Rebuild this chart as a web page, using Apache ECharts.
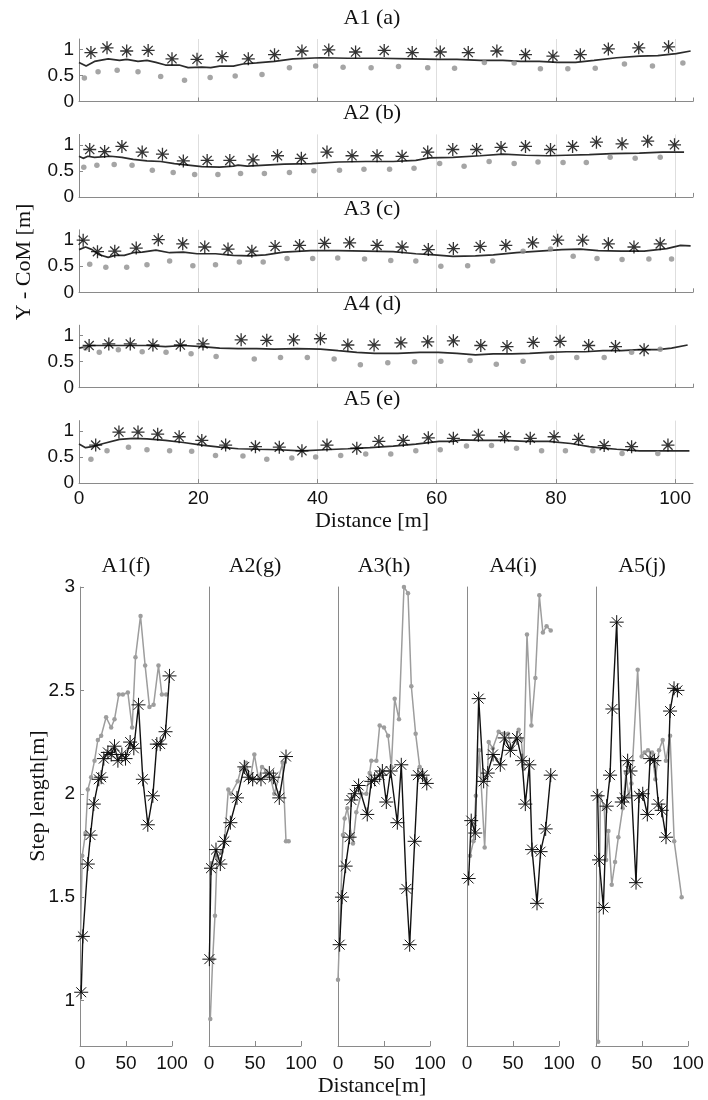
<!DOCTYPE html>
<html><head><meta charset="utf-8">
<script src="https://cdn.jsdelivr.net/npm/echarts@6/dist/echarts.min.js"></script>
<style>html,body{margin:0;padding:0;background:#fff}#c{width:708px;height:1100px}</style>
</head><body><div id="c"></div><script>
// ---------- labels / ticks ----------
const topTitles = ['A1 (a)', 'A2 (b)', 'A3 (c)', 'A4 (d)', 'A5 (e)'];
const botTitles = ['A1(f)', 'A2(g)', 'A3(h)', 'A4(i)', 'A5(j)'];
const topYTicks = [0, 0.5, 1];
const botYTicks = [1, 1.5, 2, 2.5, 3];
const topYName = 'Y - CoM [m]';
const topXName = 'Distance [m]';
const botYName = 'Step length[m]';
const botXName = 'Distance[m]';

// ---------- top panels: CoM line, step (stars), foot (dots) ----------
const a1Line = [[0,0.75],[1.2,0.68],[2.6,0.77],[4.9,0.82],[6.8,0.79],[8,0.81],[9.9,0.77],[11.4,0.79],[12.9,0.75],[14.5,0.70],[16.8,0.70],[18.3,0.65],[20.6,0.66],[22.1,0.65],[23.6,0.68],[25.9,0.68],[27.5,0.72],[29.8,0.74],[32.8,0.77],[35.9,0.82],[40.5,0.84],[45.1,0.83],[50.4,0.83],[55.8,0.82],[60.4,0.81],[63.4,0.81],[67.3,0.79],[71.1,0.79],[74.1,0.77],[77.2,0.77],[80.3,0.75],[83.3,0.75],[86.4,0.79],[90.2,0.84],[94.0,0.87],[97.1,0.88],[100.2,0.92],[102.6,0.97]];
const a1Stars = [[2.0,0.94],[4.7,1.03],[8.0,0.97],[11.6,0.98],[15.6,0.82],[19.8,0.81],[24.0,0.86],[28.4,0.82],[32.8,0.90],[37.4,0.97],[41.9,0.99],[46.4,0.95],[51.2,0.98],[55.9,0.94],[60.6,0.95],[65.3,0.94],[70.1,0.97],[74.9,0.90],[79.5,0.87],[84.1,0.90],[88.8,1.01],[93.9,1.03],[98.9,1.05]];
const a1Dots = [[0.9,0.45],[3.2,0.57],[6.4,0.60],[9.9,0.57],[13.7,0.48],[17.7,0.41],[22.0,0.46],[26.2,0.49],[30.7,0.52],[35.3,0.65],[39.7,0.68],[44.3,0.66],[49.0,0.65],[53.6,0.67],[58.5,0.65],[63.0,0.64],[68.0,0.75],[73.0,0.74],[77.4,0.63],[82.0,0.63],[86.6,0.64],[91.5,0.72],[96.2,0.68],[101.3,0.74]];

const a2Line = [[0,0.78],[0.7,0.74],[1.5,0.78],[2.6,0.76],[5.3,0.78],[7.2,0.76],[9.1,0.72],[11.4,0.69],[13.7,0.68],[16.0,0.64],[18.3,0.61],[20.6,0.58],[23.6,0.57],[25.9,0.59],[26.7,0.61],[28.2,0.59],[31.3,0.61],[34.4,0.63],[39.0,0.64],[43.5,0.67],[48.1,0.68],[52.7,0.68],[56.5,0.70],[58.8,0.75],[62.7,0.76],[67.3,0.79],[71.1,0.82],[74.9,0.80],[78.7,0.79],[81.7,0.80],[85.6,0.81],[89.4,0.83],[94.0,0.84],[97.9,0.86],[101.5,0.86]];
const a2Stars = [[1.8,0.91],[4.3,0.87],[7.2,0.97],[10.6,0.86],[14.0,0.82],[17.5,0.69],[21.5,0.70],[25.3,0.70],[29.2,0.71],[33.3,0.79],[37.3,0.74],[41.6,0.86],[45.8,0.79],[50.0,0.79],[54.2,0.78],[58.5,0.86],[62.7,0.91],[66.7,0.91],[70.8,0.95],[74.9,0.97],[79.1,0.91],[82.8,0.97],[86.8,1.05],[91.1,1.02],[95.4,1.07],[99.9,1.00]];
const a2Dots = [[0.8,0.57],[3.0,0.61],[5.9,0.62],[8.9,0.61],[12.3,0.51],[15.8,0.47],[19.4,0.43],[23.3,0.43],[27.1,0.45],[31.1,0.45],[35.3,0.47],[39.4,0.50],[43.7,0.51],[47.8,0.53],[52.1,0.53],[56.2,0.55],[60.5,0.64],[64.6,0.59],[68.8,0.68],[73.0,0.64],[77.0,0.67],[81.2,0.66],[85.1,0.66],[89.1,0.76],[93.3,0.74],[97.5,0.76]];

const a3Line = [[0,0.82],[1.1,0.87],[2.2,0.82],[3.4,0.72],[4.9,0.67],[6.0,0.71],[7.6,0.71],[9.1,0.76],[10.6,0.77],[12.9,0.81],[15.2,0.76],[17.5,0.77],[19.8,0.74],[22.9,0.74],[25.9,0.71],[28.6,0.70],[31.3,0.72],[34.3,0.77],[38.9,0.80],[43.5,0.80],[48.1,0.79],[52.7,0.78],[56.5,0.74],[59.6,0.72],[62.7,0.69],[66.5,0.70],[69.5,0.72],[73.4,0.76],[77.2,0.79],[81.0,0.82],[84.1,0.83],[87.1,0.80],[91.0,0.79],[94.8,0.79],[98.6,0.84],[100.9,0.90],[102.6,0.89]];
const a3Stars = [[0.7,1.00],[3.1,0.78],[6.0,0.79],[9.6,0.85],[13.3,1.01],[17.4,0.93],[21.1,0.87],[25.0,0.83],[29.0,0.79],[32.9,0.88],[37.0,0.90],[41.2,0.94],[45.4,0.95],[50.0,0.90],[54.2,0.87],[58.6,0.82],[62.8,0.84],[67.3,0.88],[71.6,0.90],[76.1,0.95],[80.3,1.00],[84.5,1.00],[88.8,0.93],[93.1,0.87],[97.5,0.93]];
const a3Dots = [[1.8,0.54],[4.5,0.48],[8.0,0.48],[11.4,0.53],[15.2,0.60],[19.1,0.51],[22.9,0.53],[26.9,0.58],[30.9,0.58],[34.9,0.65],[39.2,0.65],[43.4,0.66],[47.9,0.64],[52.3,0.61],[56.5,0.60],[60.7,0.50],[65.2,0.51],[69.4,0.60],[74.5,0.79],[79.1,0.83],[82.9,0.69],[86.9,0.65],[91.1,0.63],[95.6,0.64],[99.4,0.64]];

const a4Line = [[0,0.76],[2.2,0.81],[5.3,0.81],[8.3,0.81],[11.4,0.81],[14.5,0.79],[17.5,0.81],[20.6,0.79],[23.6,0.76],[26.7,0.75],[29.8,0.75],[32.8,0.74],[36.6,0.75],[40.5,0.74],[43.5,0.71],[46.6,0.68],[49.6,0.66],[53.5,0.66],[57.2,0.68],[60.3,0.68],[63.4,0.66],[66.5,0.63],[69.5,0.65],[72.6,0.65],[75.6,0.66],[78.7,0.68],[81.8,0.69],[84.9,0.69],[87.9,0.71],[91.0,0.71],[94.0,0.73],[97.1,0.73],[99.4,0.76],[102.1,0.82]];
const a4Stars = [[1.7,0.81],[5.0,0.84],[8.6,0.84],[12.4,0.82],[17.0,0.82],[20.8,0.84],[27.2,0.92],[31.5,0.91],[36.0,0.92],[40.5,0.94],[45.1,0.82],[49.5,0.82],[54.0,0.86],[58.5,0.88],[62.8,0.90],[67.4,0.81],[71.8,0.79],[76.2,0.87],[80.7,0.89],[85.5,0.81],[90.0,0.79],[94.8,0.73]];
const a4Dots = [[1.1,0.76],[3.4,0.68],[6.6,0.73],[10.6,0.69],[14.6,0.68],[18.8,0.65],[23.0,0.60],[29.4,0.55],[33.8,0.58],[38.3,0.58],[42.8,0.55],[47.2,0.44],[51.8,0.48],[56.3,0.50],[60.7,0.51],[65.6,0.52],[70.0,0.45],[74.5,0.51],[79.3,0.58],[83.5,0.58],[88.1,0.58],[92.7,0.68],[97.5,0.74]];

const a5Line = [[0,0.75],[1.1,0.68],[2.2,0.70],[4.1,0.76],[6.8,0.84],[9.1,0.86],[11.4,0.85],[14.5,0.82],[17.5,0.78],[20.6,0.73],[23.6,0.69],[26.7,0.66],[29.8,0.65],[33.5,0.64],[37.4,0.62],[41.2,0.64],[45.1,0.66],[48.8,0.68],[52.7,0.71],[56.5,0.75],[60.4,0.80],[62.7,0.80],[64.2,0.83],[67.3,0.82],[71.1,0.82],[74.9,0.80],[78.7,0.80],[82.5,0.76],[85.6,0.70],[87.9,0.67],[90.2,0.65],[94.0,0.62],[97.9,0.62],[102.4,0.62]];
const a5Stars = [[2.8,0.73],[6.7,0.98],[9.9,0.98],[13.2,0.94],[16.8,0.89],[20.6,0.82],[24.6,0.73],[29.6,0.70],[33.6,0.69],[37.4,0.62],[41.6,0.73],[46.6,0.67],[50.3,0.80],[54.4,0.82],[58.6,0.87],[62.8,0.86],[67.0,0.92],[71.4,0.89],[75.7,0.86],[79.7,0.89],[83.8,0.84],[88.1,0.72],[92.7,0.70],[98.8,0.73]];
const a5Dots = [[2.0,0.46],[4.7,0.62],[8.3,0.69],[11.4,0.64],[15.2,0.62],[18.9,0.61],[22.9,0.53],[27.5,0.52],[31.5,0.46],[35.7,0.48],[39.7,0.50],[43.9,0.53],[48.1,0.56],[52.3,0.56],[56.5,0.62],[60.6,0.64],[65.0,0.71],[69.2,0.72],[73.4,0.67],[77.6,0.62],[81.6,0.62],[86.2,0.62],[91.1,0.57],[97.1,0.57]];

// ---------- bottom panels: step length (black stars, gray dots) ----------
const f1Black = [[1.3,1.04],[3.1,1.31],[8.5,1.66],[11.4,1.80],[15.0,1.95],[20.4,2.07],[23.0,2.08],[25.9,2.17],[30.3,2.20],[33.9,2.19],[37.5,2.23],[41.2,2.16],[45.5,2.19],[49.5,2.17],[54.5,2.25],[58.5,2.22],[63.6,2.43],[68.3,2.07],[73.7,1.85],[79.2,1.99],[83.5,2.24],[87.2,2.24],[93.0,2.30],[97.3,2.57]];
const f1Gray = [[0.6,1.31],[2.4,1.70],[6.0,1.81],[8.5,2.02],[12.1,2.08],[15.8,2.16],[19.4,2.26],[23.0,2.28],[28.4,2.37],[33.9,2.32],[37.5,2.36],[42.2,2.48],[46.6,2.48],[52.0,2.49],[56.7,2.32],[60.3,2.66],[65.8,2.86],[70.8,2.62],[75.5,2.42],[80.0,2.43],[85.3,2.62],[89.0,2.48],[93.7,2.48]];

const g2Black = [[0.4,1.20],[2.2,1.64],[7.6,1.73],[12.3,1.66],[16.7,1.77],[23.2,1.86],[30.4,1.98],[38.4,2.13],[43.0,2.08],[47.5,2.07],[56.5,2.07],[65.6,2.10],[70.0,2.08],[76.4,1.98],[83.7,2.18]];
const g2Gray = [[1.4,0.91],[4.0,1.20],[6.5,1.41],[8.7,1.69],[13.8,1.72],[16.7,1.76],[21.0,2.02],[23.9,2.00],[31.2,2.06],[34.8,2.12],[40.2,2.15],[44.9,2.07],[49.3,2.19],[54.0,2.07],[57.6,2.13],[62.0,2.11],[67.4,2.07],[71.0,2.00],[80.1,2.15],[83.7,1.77],[86.6,1.77]];

const h3Black = [[1.8,1.27],[4.3,1.50],[8.3,1.65],[12.6,1.79],[14.5,1.97],[18.1,2.00],[22.4,2.04],[31.8,1.90],[36.2,2.06],[39.8,2.07],[45.3,2.09],[48.2,2.11],[52.5,1.96],[57.2,2.11],[64.5,1.86],[68.8,2.14],[74.3,1.54],[77.9,1.27],[83.3,1.77],[86.9,2.09],[92.0,2.09],[96.5,2.05]];
const h3Gray = [[0,1.10],[5.4,1.80],[7.2,1.88],[10.1,1.93],[14.5,1.80],[16.3,1.76],[19.9,1.91],[25.4,2.00],[30.8,2.00],[34.4,2.10],[36.2,2.16],[41.7,2.16],[45.3,2.33],[50.0,2.32],[54.4,2.28],[58.0,2.13],[61.6,2.46],[66.3,2.36],[71.7,3.00],[76.1,2.97],[79.7,2.52],[84.4,2.29],[88.8,2.13],[92.0,2.10],[96.0,2.05]];

const i4Black = [[1.8,1.59],[4.6,1.87],[9.0,1.81],[12.7,2.46],[18.1,2.06],[22.5,2.10],[28.3,2.19],[36.2,2.14],[40.9,2.27],[47.1,2.21],[54.3,2.27],[59.8,2.16],[63.4,1.95],[67.8,2.14],[70.7,1.73],[76.1,1.47],[80.0,1.72],[85.5,1.83],[91.0,2.09]];
const i4Gray = [[3.3,1.70],[7.0,1.77],[9.6,1.99],[13.4,2.21],[19.2,1.74],[23.6,2.25],[28.0,2.22],[34.4,2.30],[39.9,2.29],[44.6,2.29],[48.2,2.22],[56.2,2.31],[59.0,2.26],[61.6,2.12],[65.2,2.77],[70.0,2.33],[74.3,2.56],[78.6,2.96],[82.5,2.78],[86.5,2.81],[91.0,2.79]];

const j5Black = [[1.8,1.99],[3.3,1.68],[8.0,1.45],[11.6,1.94],[15.3,2.09],[17.8,2.41],[22.5,2.83],[28.0,1.96],[31.0,1.98],[34.4,2.16],[37.5,2.11],[43.5,1.57],[46.8,1.99],[50.8,2.00],[55.8,1.90],[58.8,2.17],[63.5,2.16],[67.8,1.95],[71.4,1.92],[76.1,1.79],[80.5,2.40],[84.8,2.51],[88.5,2.50]];
const j5Gray = [[2.4,0.80],[4.7,1.99],[9.0,1.93],[11.0,1.68],[13.5,1.82],[17.1,1.56],[20.7,1.67],[24.3,1.79],[29.0,1.93],[32.5,2.10],[35.5,1.99],[38.5,2.05],[45.3,2.60],[49.6,2.18],[52.8,2.20],[56.5,2.21],[61.0,2.20],[64.5,2.07],[68.5,2.21],[72.5,2.26],[76.0,2.16],[80.5,2.28],[85.0,1.77],[93.1,1.50]];

const topLines = [a1Line, a2Line, a3Line, a4Line, a5Line];
const topStars = [a1Stars, a2Stars, a3Stars, a4Stars, a5Stars];
const topDots = [a1Dots, a2Dots, a3Dots, a4Dots, a5Dots];
const botBlack = [f1Black, g2Black, h3Black, i4Black, j5Black];
const botGray = [f1Gray, g2Gray, h3Gray, i4Gray, j5Gray];

// ---------- build ----------
const chart = echarts.init(document.getElementById('c'), null, {renderer: 'canvas'});
const STAR = 'path://M0,-10L0,10M-10,0L10,0M-7.07,-7.07L7.07,7.07M-7.07,7.07L7.07,-7.07';
const SANS = '"Liberation Sans", Arial, sans-serif';
const SERIF = '"Liberation Serif", "Times New Roman", serif';
const AX = '#8a8a8a';
const TICK_FS = 19, TEXT_FS = 22;
const grids = [], xAxes = [], yAxes = [], series = [], graphics = [];

const TOP_LEFT = 79, TOP_W = 614, TOP_H = 62.5;
for (let i = 0; i < 5; i++) {
  const top = 39 + 95.4 * i;
  grids.push({left: TOP_LEFT, top: top, width: TOP_W, height: TOP_H});
  xAxes.push({gridIndex: i, type: 'value', min: 0, max: 103, interval: 20,
    axisLine: {show: true, lineStyle: {color: AX, width: 1}},
    axisTick: {show: true, inside: true, length: 4, lineStyle: {color: AX}},
    axisLabel: {show: i === 4, fontFamily: SANS, fontSize: TICK_FS, color: '#111', margin: 6, showMaxLabel: false},
    splitLine: {show: true, showMinLine: false, showMaxLine: false, lineStyle: {color: '#dedede', width: 1}}});
  yAxes.push({gridIndex: i, type: 'value', min: 0, max: 1.2,
    axisLine: {show: true, onZero: false, lineStyle: {color: AX, width: 1}},
    axisTick: {show: true, inside: true, length: 4, customValues: topYTicks, lineStyle: {color: AX}},
    axisLabel: {customValues: topYTicks, fontFamily: SANS, fontSize: TICK_FS, color: '#111', margin: 5},
    splitLine: {show: false}});
  series.push({type: 'line', xAxisIndex: i, yAxisIndex: i, data: topLines[i], showSymbol: false,
    lineStyle: {color: '#2b2b2b', width: 1.7}, z: 2, silent: true});
  series.push({type: 'scatter', xAxisIndex: i, yAxisIndex: i, data: topDots[i], symbol: 'circle', symbolSize: 5.5,
    itemStyle: {color: '#8f8f8f'}, z: 3});
  series.push({type: 'scatter', xAxisIndex: i, yAxisIndex: i, data: topStars[i], symbol: STAR, symbolSize: 13,
    itemStyle: {color: '#000', borderColor: '#000', borderWidth: 1.3}, z: 4});
  graphics.push({type: 'text', x: 372, y: top - 21, style: {text: topTitles[i], font: TEXT_FS + 'px ' + SERIF, fill: '#111', align: 'center', verticalAlign: 'middle'}});
}

const BOT_LEFTS = [80, 209, 338, 467, 596], BOT_W = 92, BOT_TOP = 587, BOT_H = 459;
for (let k = 0; k < 5; k++) {
  const g = 5 + k;
  grids.push({left: BOT_LEFTS[k], top: BOT_TOP, width: BOT_W, height: BOT_H});
  xAxes.push({gridIndex: g, type: 'value', min: 0, max: 100, interval: 50,
    axisLine: {show: true, onZero: false, lineStyle: {color: AX, width: 1}},
    axisTick: {show: true, inside: true, length: 5, lineStyle: {color: AX}},
    axisLabel: {fontFamily: SANS, fontSize: TICK_FS, color: '#111', margin: 8},
    splitLine: {show: false}});
  yAxes.push({gridIndex: g, type: 'value', min: 0.78, max: 3,
    axisLine: {show: true, onZero: false, lineStyle: {color: AX, width: 1}},
    axisTick: {show: k === 0, inside: true, length: 4, customValues: botYTicks, lineStyle: {color: AX}},
    axisLabel: {show: k === 0, customValues: botYTicks, fontFamily: SANS, fontSize: TICK_FS, color: '#111', margin: 5},
    splitLine: {show: false}});
  series.push({type: 'line', xAxisIndex: g, yAxisIndex: g, data: botGray[k], symbol: 'circle', symbolSize: 4.5,
    lineStyle: {color: '#9d9d9d', width: 1.5}, itemStyle: {color: '#9d9d9d'}, z: 2});
  series.push({type: 'line', xAxisIndex: g, yAxisIndex: g, data: botBlack[k], symbol: STAR, symbolSize: 14,
    lineStyle: {color: '#111', width: 1.4}, itemStyle: {color: '#111', borderColor: '#111', borderWidth: 1}, z: 3});
  graphics.push({type: 'text', x: BOT_LEFTS[k] + BOT_W / 2, y: 566, style: {text: botTitles[k], font: TEXT_FS + 'px ' + SERIF, fill: '#111', align: 'center', verticalAlign: 'middle'}});
}

graphics.push({type: 'text', x: 24, y: 262, rotation: Math.PI / 2, style: {text: topYName, font: TEXT_FS + 'px ' + SERIF, fill: '#111', align: 'center', verticalAlign: 'middle'}});
graphics.push({type: 'text', x: 372, y: 521, style: {text: topXName, font: TEXT_FS + 'px ' + SERIF, fill: '#111', align: 'center', verticalAlign: 'middle'}});
graphics.push({type: 'text', x: 38, y: 796, rotation: Math.PI / 2, style: {text: botYName, font: TEXT_FS + 'px ' + SERIF, fill: '#111', align: 'center', verticalAlign: 'middle'}});
graphics.push({type: 'text', x: 372, y: 1086, style: {text: botXName, font: TEXT_FS + 'px ' + SERIF, fill: '#111', align: 'center', verticalAlign: 'middle'}});

chart.setOption({animation: false, backgroundColor: '#fff', grid: grids, xAxis: xAxes, yAxis: yAxes, series: series, graphic: graphics});
</script></body></html>
